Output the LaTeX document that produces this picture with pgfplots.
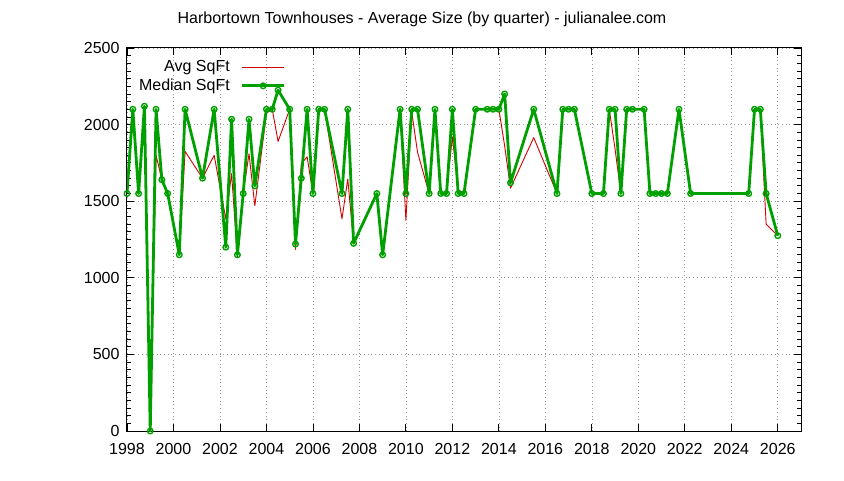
\documentclass[border=0pt]{standalone}
\usepackage{fontspec}
\setmainfont{Liberation Sans}
\usepackage{pgfplots}
\pgfplotsset{compat=1.18}
\usepackage{pgfplotstable}
\definecolor{avgred}{RGB}{210,0,0}
\definecolor{medgreen}{RGB}{0,160,0}
\pgfplotstableread{
x med avg
1998.00 1550 1550
1998.25 2100 2100
1998.50 1550 1550
1998.75 2120 2120
1999.00 0 0
1999.25 2100 1800
1999.50 1640 1640
1999.75 1550 1550
2000.25 1150 1150
2000.50 2100 1825
2001.25 1650 1650
2001.75 2100 1800
2002.25 1200 1385
2002.50 2035 1680
2002.75 1150 1135
2003.00 1550 1550
2003.25 2035 1810
2003.50 1600 1470
2004.00 2100 2075
2004.25 2100 2100
2004.50 2225 1890
2005.00 2100 2100
2005.25 1220 1185
2005.50 1650 1745
2005.75 2100 1790
2006.00 1550 1550
2006.25 2100 2100
2006.50 2100 2100
2007.25 1550 1385
2007.50 2100 1645
2007.75 1225 1225
2008.75 1550 1550
2009.00 1150 1150
2009.75 2100 2100
2010.00 1550 1375
2010.25 2100 2085
2010.50 2100 1820
2011.00 1550 1550
2011.25 2100 2100
2011.50 1550 1550
2011.75 1550 1560
2012.00 2100 1920
2012.25 1550 1575
2012.50 1550 1550
2013.00 2100 2100
2013.50 2100 2100
2013.75 2100 2100
2014.00 2100 2100
2014.25 2200 1860
2014.50 1620 1585
2015.50 2100 1915
2016.50 1550 1550
2016.75 2100 2100
2017.00 2100 2100
2017.25 2100 2100
2018.00 1550 1550
2018.50 1550 1550
2018.75 2100 2100
2019.00 2100 1840
2019.25 1550 1550
2019.50 2100 2100
2019.75 2100 2100
2020.25 2100 2100
2020.50 1550 1550
2020.75 1550 1550
2021.00 1550 1550
2021.25 1550 1550
2021.75 2100 2100
2022.25 1550 1550
2024.75 1550 1550
2025.00 2100 2100
2025.25 2100 2100
2025.50 1550 1350
2026.00 1275 1275
}\data
\begin{document}
\begin{tikzpicture}
\path (0pt,0pt) rectangle (844pt,480pt);
\node[font=\fontsize{16}{19}\selectfont] at (422pt,461pt) {Harbortown Townhouses - Average Size (by quarter) - julianalee.com};
\begin{axis}[
  at={(127pt,49pt)}, anchor=south west,
  width=674pt, height=383pt, scale only axis,
  xmin=1998, xmax=2027, ymin=0, ymax=2500,
  xtick={1998,2000,...,2026}, ytick={0,500,...,2500},
  minor x tick num=1, minor y tick num=9,
  grid=major,
  major grid style={gray!80, line width=0.6pt, dash pattern=on 0.7pt off 3pt},
  tick align=inside, xtick pos=both, ytick pos=both,
  major tick length=7pt, minor tick length=4pt,
  tick style={black, line width=0.8pt},
  axis line style={line width=1pt},
  /pgf/number format/1000 sep={},
  /pgf/number format/assume math mode=true,
  ticklabel style={font=\fontsize{16}{19}\selectfont},
  xticklabel style={yshift=-9pt},
  yticklabel style={xshift=-4pt},
  legend style={at={(0.240,0.978)}, anchor=north east, draw=none, fill=none,
    font=\fontsize{16}{19}\selectfont, row sep=2pt, column sep=9pt},
  legend cell align=right,
  legend plot pos=right,
  legend image code/.code={\draw[mark repeat=2,mark phase=2,#1] plot coordinates {(0pt,0pt) (21pt,0pt) (42pt,0pt)};},
]
\addplot[avgred, line width=0.9pt, no marks, line join=round] table[x=x,y=avg]{\data};
\addplot[medgreen, line width=2.8pt, line join=round, mark=o, mark size=2.8pt, mark options={line width=1.4pt}] table[x=x,y=med]{\data};
\legend{Avg SqFt, Median SqFt}
\end{axis}
\end{tikzpicture}
\end{document}
